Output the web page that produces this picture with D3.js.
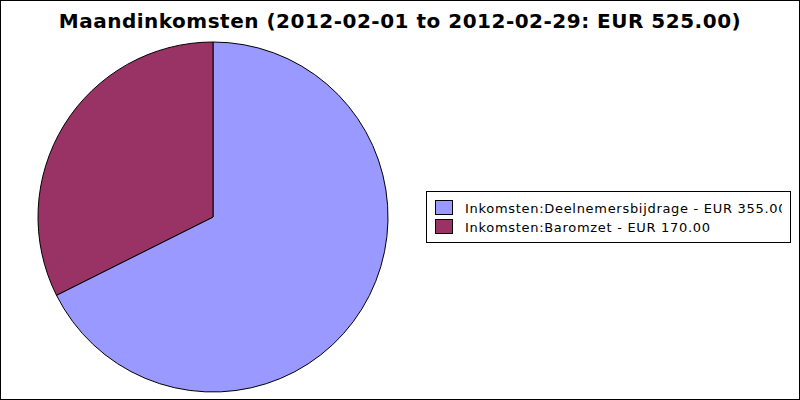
<!DOCTYPE html>
<html><head><meta charset="utf-8">
<script src="https://cdn.jsdelivr.net/npm/d3@7"></script>
<style>body{margin:0;background:#fff}svg{display:block}</style>
</head><body>
<script>
const title = "Maandinkomsten (2012-02-01 to 2012-02-29: EUR 525.00)";
const categories = ["Inkomsten:Deelnemersbijdrage", "Inkomsten:Baromzet"];
const values = [355.00, 170.00];
const legendLabels = ["Inkomsten:Deelnemersbijdrage - EUR 355.00", "Inkomsten:Baromzet - EUR 170.00"];
const colors = ["#9999ff", "#993366"];

const W = 800, H = 400;
const svg = d3.select("body").append("svg").attr("width", W).attr("height", H);
svg.append("rect").attr("x", 0.5).attr("y", 0.5).attr("width", W - 1).attr("height", H - 1)
  .attr("fill", "#fff").attr("stroke", "#000");

svg.append("text").attr("x", 400).attr("y", 28).attr("text-anchor", "middle")
  .attr("font-family", "DejaVu Sans").attr("font-weight", "bold").attr("font-size", 20)
  .attr("letter-spacing", "0.5px")
  .text(title);

const cx = 213, cy = 217, r = 175;
const pie = d3.pie().sort(null).value(d => d)(values);
const arc = d3.arc().innerRadius(0).outerRadius(r);
const color = d3.scaleOrdinal().domain(categories).range(colors);
svg.append("g").attr("transform", `translate(${cx},${cy})`)
  .selectAll("path").data(pie).join("path")
  .attr("d", arc).attr("fill", (d, i) => color(categories[i]))
  .attr("stroke", "#000").attr("stroke-width", 1).attr("stroke-linejoin", "round");

const lx = 426, ly = 191, lw = 364, lh = 51;
svg.append("defs").append("clipPath").attr("id", "lc")
  .append("rect").attr("x", lx).attr("y", ly).attr("width", 356).attr("height", lh);
svg.append("rect").attr("x", lx + 0.5).attr("y", ly + 0.5).attr("width", lw).attr("height", lh)
  .attr("fill", "#fff").attr("stroke", "#000");
const lg = svg.append("g").attr("clip-path", "url(#lc)");
legendLabels.forEach((t, i) => {
  lg.append("rect").attr("x", 435.5).attr("y", 200.5 + i * 19).attr("width", 17).attr("height", 14)
    .attr("fill", colors[i]).attr("stroke", "#000");
  lg.append("text").attr("x", 465).attr("y", 212.5 + i * 19)
    .attr("font-family", "DejaVu Sans").attr("font-size", 13).attr("letter-spacing", "0.7px").text(t);
});
</script>
</body></html>
